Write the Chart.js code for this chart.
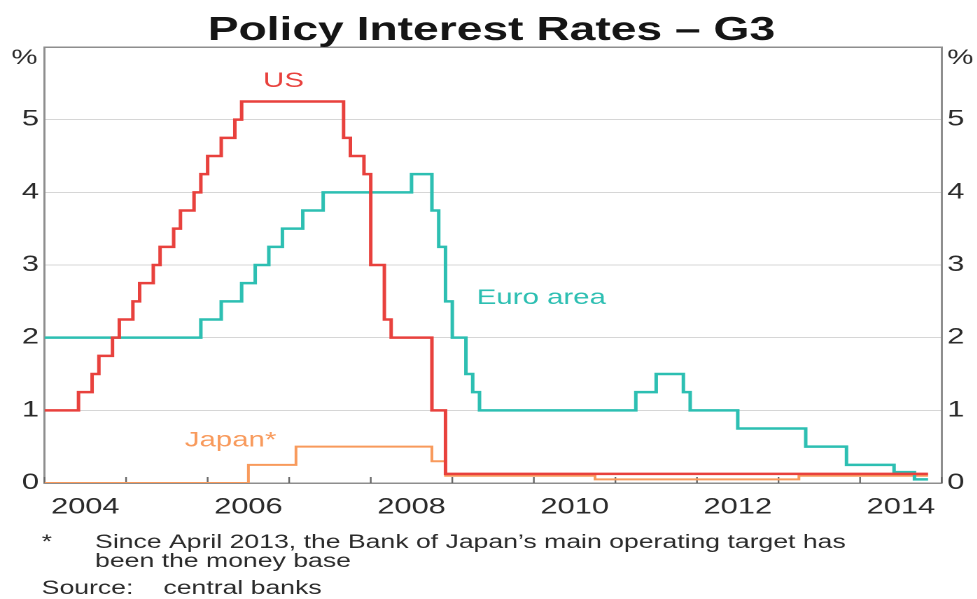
<!DOCTYPE html>
<html lang="en">
<head>
<meta charset="UTF-8">
<title>Policy Interest Rates - G3</title>
<script src="https://cdn.jsdelivr.net/npm/chart.js@4.4.0/dist/chart.umd.min.js"></script>
<style>
    html, body { margin: 0; padding: 0; background: #fff; overflow: hidden; }
    /* the original picture is stretched sideways, so draw narrow and scale it */
    .wrap { width: 698px; height: 599px; transform: scaleX(1.4); transform-origin: 0 0; }
</style>
</head>
<body>
<div class="wrap">
    <canvas id="ratesChart" width="698" height="599" style="width:698px;height:599px"></canvas>
</div>
<script>
    // month of each rate change (end-of-month value), last entry = end of data
    const usDates = ['2004-01','2004-06','2004-08','2004-09','2004-11','2004-12','2005-02','2005-03','2005-05','2005-06',
        '2005-08','2005-09','2005-11','2005-12','2006-01','2006-03','2006-05','2006-06','2007-09','2007-10',
        '2007-12','2008-01','2008-03','2008-04','2008-10','2008-12','2014-11'];
    const usRates = [1.00, 1.25, 1.50, 1.75, 2.00, 2.25, 2.50, 2.75, 3.00, 3.25,
        3.50, 3.75, 4.00, 4.25, 4.50, 4.75, 5.00, 5.25, 4.75, 4.50,
        4.25, 3.00, 2.25, 2.00, 1.00, 0.125, 0.125];

    const euroDates = ['2004-01','2005-12','2006-03','2006-06','2006-08','2006-10','2006-12','2007-03','2007-06','2008-07',
        '2008-10','2008-11','2008-12','2009-01','2009-03','2009-04','2009-05','2011-04','2011-07','2011-11',
        '2011-12','2012-07','2013-05','2013-11','2014-06','2014-09','2014-11'];
    const euroRates = [2.00, 2.25, 2.50, 2.75, 3.00, 3.25, 3.50, 3.75, 4.00, 4.25,
        3.75, 3.25, 2.50, 2.00, 1.50, 1.25, 1.00, 1.25, 1.50, 1.25,
        1.00, 0.75, 0.50, 0.25, 0.15, 0.05, 0.05];

    const japanDates = ['2004-01','2006-07','2007-02','2008-10','2008-12','2010-10','2013-04','2014-11'];
    const japanRates = [0, 0.25, 0.50, 0.30, 0.10, 0.05, 0.10, 0.10];

    const yearTicks = [2004, 2005, 2006, 2007, 2008, 2009, 2010, 2011, 2012, 2013, 2014, 2015];
    const yearLabels = [2004, 2006, 2008, 2010, 2012, 2014];
    const rateTicks = [0, 1, 2, 3, 4, 5, 6];

    const RED = '#e8413d', TEAL = '#2dbfb2', ORANGE = '#f89a5c';
    const AXIS = '#8e8e8e', GRID = '#d6d6d6', TEXT = '#2b2b2b';
    const FONT = "'Liberation Sans', Arial, sans-serif";

    // series names placed in data units (left x, baseline y)
    const seriesLabels = [
        { text: 'US', x: 2006.68, y: 5.45, color: RED },
        { text: 'Euro area', x: 2009.30, y: 2.46, color: TEAL },
        { text: 'Japan*', x: 2005.72, y: 0.50, color: ORANGE }
    ];

    function toYear(d) {
        const [y, m] = d.split('-').map(Number);
        return y + (m - 1) / 12;
    }
    function points(dates, rates) {
        return dates.map((d, i) => ({ x: toYear(d), y: rates[i] }));
    }

    const rbaDecor = {
        id: 'rbaDecor',
        beforeDatasetsDraw(chart) {
            const { ctx, chartArea, scales } = chart;
            ctx.save();
            ctx.strokeStyle = '#666';
            ctx.lineWidth = 1.2;
            yearTicks.forEach(yr => {
                const px = scales.x.getPixelForValue(yr);
                ctx.beginPath();
                ctx.moveTo(px, chartArea.bottom);
                ctx.lineTo(px, chartArea.bottom - 6);
                ctx.stroke();
            });
            ctx.restore();
        },
        afterDraw(chart) {
            const { ctx, chartArea, scales } = chart;
            ctx.save();
            ctx.textBaseline = 'alphabetic';

            ctx.fillStyle = '#151515';
            ctx.font = 'bold 33px ' + FONT;
            ctx.textAlign = 'center';
            ctx.fillText('Policy Interest Rates \u2013 G3', 351, 40);

            ctx.fillStyle = TEXT;
            ctx.font = '21px ' + FONT;
            ctx.textAlign = 'right';
            ctx.fillText('%', chartArea.left - 5, 64);
            ctx.textAlign = 'left';
            ctx.fillText('%', chartArea.right + 4, 64);

            ctx.font = '21px ' + FONT;
            seriesLabels.forEach(l => {
                ctx.fillStyle = l.color;
                ctx.fillText(l.text, scales.x.getPixelForValue(l.x), scales.y.getPixelForValue(l.y));
            });

            ctx.fillStyle = TEXT;
            ctx.font = '19px ' + FONT;
            ctx.fillText('*', 29.8, 548);
            ctx.fillText('Since April 2013, the Bank of Japan\u2019s main operating target has', 67.9, 548);
            ctx.fillText('been the money base', 67.9, 567);
            ctx.fillText('Source:', 29.8, 594);
            ctx.fillText('central banks', 116.7, 594);
            ctx.restore();
        }
    };

    const lineStyle = { pointRadius: 0, stepped: true, tension: 0, fill: false };

    new Chart(document.getElementById('ratesChart'), {
        type: 'line',
        data: {
            datasets: [
                { label: 'US', data: points(usDates, usRates), borderColor: RED, borderWidth: 2.5, ...lineStyle },
                { label: 'Euro area', data: points(euroDates, euroRates), borderColor: TEAL, borderWidth: 2.5, ...lineStyle },
                { label: 'Japan*', data: points(japanDates, japanRates), borderColor: ORANGE, borderWidth: 2, ...lineStyle }
            ]
        },
        options: {
            responsive: false,
            animation: false,
            devicePixelRatio: 2,
            layout: { padding: { top: 47, left: 0, right: 0, bottom: 0 } },
            plugins: { legend: { display: false }, tooltip: { enabled: false }, title: { display: false } },
            scales: {
                x: {
                    type: 'linear',
                    min: yearTicks[0],
                    max: yearTicks[yearTicks.length - 1],
                    afterBuildTicks: s => { s.ticks = yearLabels.map(y => ({ value: y + 0.5 })); },
                    afterFit: s => { s.height = 116; },
                    grid: { display: false, drawTicks: false },
                    border: { display: true, color: AXIS, width: 1.5 },
                    ticks: {
                        autoSkip: false, maxRotation: 0, padding: 11, color: TEXT,
                        font: { family: FONT, size: 22 },
                        callback: v => String(Math.round(v - 0.5))
                    }
                },
                y: {
                    position: 'left',
                    min: rateTicks[0],
                    max: rateTicks[rateTicks.length - 1],
                    afterBuildTicks: s => { s.ticks = rateTicks.map(v => ({ value: v })); },
                    afterFit: s => { s.width = 31.8; },
                    grid: {
                        drawTicks: false,
                        color: c => c.tick.value === 0 ? 'rgba(0,0,0,0)' : (c.tick.value === 6 ? AXIS : GRID),
                        lineWidth: c => c.tick.value === 6 ? 1.5 : 1
                    },
                    border: { display: true, color: AXIS, width: 1.5 },
                    ticks: {
                        padding: 4, color: TEXT, font: { family: FONT, size: 22 },
                        callback: v => v === 6 ? '' : String(v)
                    }
                },
                y2: {
                    position: 'right',
                    min: rateTicks[0],
                    max: rateTicks[rateTicks.length - 1],
                    afterBuildTicks: s => { s.ticks = rateTicks.map(v => ({ value: v })); },
                    afterFit: s => { s.width = 25.4; },
                    grid: { display: false, drawTicks: false },
                    border: { display: true, color: AXIS, width: 1.5 },
                    ticks: {
                        padding: 4, color: TEXT, font: { family: FONT, size: 22 },
                        callback: v => v === 6 ? '' : String(v)
                    }
                }
            }
        },
        plugins: [rbaDecor]
    });
</script>
</body>
</html>
